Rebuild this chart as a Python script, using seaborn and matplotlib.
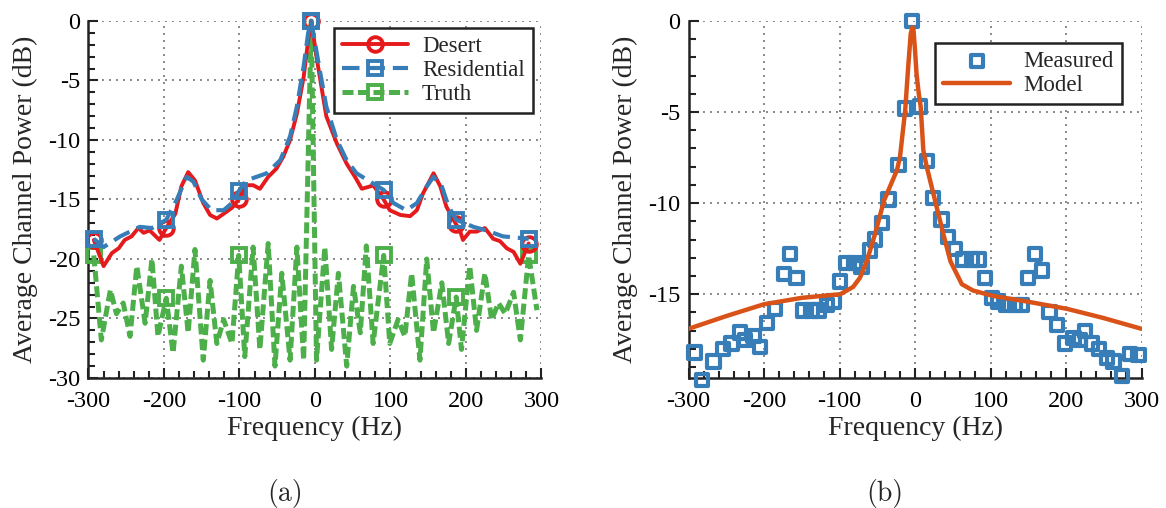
import matplotlib
matplotlib.use("Agg")
import matplotlib.pyplot as plt
import seaborn as sns
import numpy as np
import pandas as pd
from matplotlib.ticker import MultipleLocator

# ---------------- Data: panel (a) ----------------
desert_x = [-293, -280, -269, -260, -252, -243, -234, -227, -219, -206, -197, -185, -177, -168,
            -159, -148, -139, -130, -121, -110, -101, -91, -82, -73, -62, -51, -42, -33, -24,
            -15, -9, -5, 4, 15, 29, 42, 53, 62, 73, 77, 91, 99, 113, 126, 135, 143, 157, 166,
            174, 187, 192, 196, 205, 214, 225, 236, 245, 254, 263, 272, 283]
desert_y = [-18.4, -20.6, -19.5, -19.1, -18.4, -18.1, -17.4, -17.8, -17.6, -18.4, -17.4, -16.2,
            -13.9, -12.7, -13.4, -15.3, -16.3, -16.6, -16.2, -15.7, -15.0, -13.8, -13.8, -14.1,
            -13.1, -12.4, -11.4, -10.0, -7.8, -4.7, -1.6, 0.0, -3.8, -8.0, -10.3, -12.0, -13.1,
            -14.1, -13.9, -13.8, -15.0, -15.9, -16.3, -16.4, -15.9, -14.5, -12.8, -13.9, -15.6,
            -17.1, -17.6, -18.4, -17.7, -17.7, -17.4, -18.3, -18.5, -19.1, -19.4, -20.4, -18.7]
desert_marks = [-293, -197, -101, -5, 91, 187, 283]

resid_x = [-293, -280, -258, -232, -216, -197, -183, -170, -161, -150, -137, -121, -110, -101,
           -91, -64, -46, -33, -24, -15, -9, -5, 4, 15, 29, 42, 55, 73, 91, 104, 121, 135, 148,
           157, 168, 177, 187, 210, 227, 249, 283]
resid_y = [-18.3, -19.0, -18.1, -17.3, -17.4, -16.7, -15.0, -13.1, -13.5, -15.0, -15.9, -15.9,
           -15.3, -14.3, -13.4, -12.8, -11.7, -9.7, -7.2, -3.8, -1.0, 0.0, -3.3, -7.2, -10.0,
           -11.7, -12.8, -13.5, -14.2, -15.3, -15.9, -15.3, -13.9, -13.1, -13.9, -15.6, -16.7,
           -17.3, -17.6, -18.1, -18.3]

truth_x = [-293, -283, -271, -263, -254, -245, -236, -225, -216, -208, -197, -188, -177, -168,
           -159, -148, -139, -130, -121, -110, -101, -93, -82, -73, -62, -53, -44, -33, -24,
           -15, -5, 2, 13, 22, 31, 42, 51, 60, 68, 77, 91, 99, 110, 119, 128, 139, 148, 157,
           168, 177, 187, 194, 205, 214, 225, 234, 243, 252, 263, 272, 283, 294]
truth_y = [-19.7, -26.8, -22.6, -24.6, -23.7, -26.5, -20.6, -25.4, -20.0, -26.5, -23.3, -27.9,
           -20.6, -26.2, -19.2, -28.5, -21.8, -27.1, -25.1, -27.1, -19.7, -28.2, -19.0, -27.6,
           -18.7, -29.0, -21.2, -28.5, -19.0, -28.5, 0.0, -28.5, -19.0, -27.6, -21.2, -29.0,
           -22.3, -26.2, -18.9, -27.1, -19.7, -27.1, -25.1, -26.5, -21.2, -28.5, -20.0, -26.2,
           -22.0, -27.1, -23.2, -27.6, -20.6, -26.0, -21.2, -25.1, -23.7, -24.6, -22.8, -26.8,
           -19.7, -24.3]

# ---------------- Data: panel (b) ----------------
meas_x = [-292, -282, -267, -254, -243, -232, -225, -214, -205, -196, -185, -174, -166, -157,
          -148, -137, -128, -117, -108, -99, -91, -80, -71, -60, -53, -44, -35, -22, -13, -4,
          7, 16, 24, 35, 44, 53, 64, 75, 84, 93, 102, 110, 121, 132, 141, 150, 159, 168, 178,
          188, 199, 210, 219, 225, 234, 244, 254, 263, 274, 285, 296]
meas_y = [-18.2, -19.7, -18.7, -18.0, -17.7, -17.1, -17.5, -17.3, -17.9, -16.6, -15.8, -13.9,
          -12.8, -14.1, -15.9, -15.9, -15.9, -15.6, -15.4, -14.3, -13.3, -13.3, -13.5, -12.6,
          -12.0, -11.1, -9.8, -7.9, -4.8, 0.0, -4.7, -7.7, -9.7, -10.9, -11.85, -12.5, -13.1,
          -13.1, -13.1, -14.1, -15.2, -15.4, -15.6, -15.6, -15.6, -14.1, -12.8, -13.7, -15.97,
          -16.7, -17.7, -17.4, -17.5, -17.0, -17.7, -18.0, -18.5, -18.7, -19.5, -18.3, -18.35]

model_x = [-300, -250, -200, -150, -99, -82, -73, -64, -53, -41, -24, -20, -13, -9, -5.7,
           -3.5, -2, 0, 2, 5, 7.5, 11, 15.5, 26.5, 37.5, 47, 62, 77, 104, 148, 201, 249, 300]
model_y = [-16.9, -16.2, -15.55, -15.2, -15.0, -14.6, -14.1, -13.2, -11.7, -9.85, -8.2, -7.5,
           -4.9, -2.5, -0.7, -0.35, -0.5, -1.6, -2.9, -4.0, -4.7, -7.1, -8.0, -9.85, -11.7,
           -13.2, -14.45, -14.8, -15.1, -15.4, -15.8, -16.3, -16.9]

RED = "#E41A1C"
BLUE = "#377EB8"
GREEN = "#4DAF4A"
ORANGE = "#D95319"

sns.set_theme(style="ticks")
plt.rcParams["font.family"] = ["Liberation Serif", "DejaVu Serif"]
plt.rcParams["axes.unicode_minus"] = False

fig = plt.figure(figsize=(11.66, 5.08), dpi=100)
ax1 = fig.add_axes([0.0759, 0.2559, 0.3885, 0.7028])
ax2 = fig.add_axes([0.5905, 0.2559, 0.3885, 0.7028])


def idx_of(xs, marks):
    return [xs.index(m) for m in marks]


# Panel (a)
sns.lineplot(x=truth_x, y=truth_y, ax=ax1, color=GREEN, lw=3.6,
             marker="s", markevery=idx_of(truth_x, desert_marks), ms=10, mfc="none",
             mec=GREEN, mew=2.8, label="Truth", clip_on=False, zorder=3)
ax1.lines[-1].set_dashes((2.2, 0.9))
sns.lineplot(x=resid_x, y=resid_y, ax=ax1, color=BLUE, lw=3.0,
             marker="s", markevery=idx_of(resid_x, desert_marks), ms=10.5, mfc="none",
             mec=BLUE, mew=2.8, label="Residential", clip_on=False, zorder=4)
ax1.lines[-1].set_dashes((4.2, 1.9))
sns.lineplot(x=desert_x, y=desert_y, ax=ax1, color=RED, lw=2.8,
             marker="o", markevery=idx_of(desert_x, desert_marks), ms=10.5, mfc="none",
             mec=RED, mew=2.8, label="Desert", clip_on=False, zorder=3.5)

# Panel (b)
sns.scatterplot(x=meas_x, y=meas_y, ax=ax2, marker="s", s=78, facecolor="none",
                edgecolor=BLUE, linewidth=3.0, label="Measured", clip_on=False, zorder=3)
sns.lineplot(x=model_x, y=model_y, ax=ax2, color=ORANGE, lw=3.2, label="Model", zorder=4)

for ax, ylim in ((ax1, (-30, 0)), (ax2, (-19.6, 0))):
    ax.set_xlim(-300, 300)
    ax.set_ylim(*ylim)
    ax.xaxis.set_major_locator(MultipleLocator(100))
    ax.xaxis.set_minor_locator(MultipleLocator(20))
    ax.yaxis.set_major_locator(MultipleLocator(5))
    ax.yaxis.set_minor_locator(MultipleLocator(1))
    ax.tick_params(which="both", direction="in", colors="#222222", labelcolor="black",
                   labelsize=17.5, width=1.5, top=False, right=False)
    ax.tick_params(which="major", length=7)
    ax.tick_params(which="minor", length=5)
    ax.tick_params(axis="x", which="major", pad=9)
    ax.tick_params(axis="y", which="major", pad=6)
    ax.grid(True, which="major", color="#888888", linestyle=(0, (1, 2.6)), lw=1.4)
    for s in ("top", "right"):
        ax.spines[s].set_visible(False)
    for s in ("left", "bottom"):
        ax.spines[s].set_color("#222222")
        ax.spines[s].set_linewidth(1.8)
    ax.set_xlabel("Frequency (Hz)", fontsize=20, labelpad=3)
    ax.set_ylabel("Average Channel Power (dB)", fontsize=20, labelpad=7)
    ax.set_facecolor("white")

h, l = ax1.get_legend_handles_labels()
order = [l.index(n) for n in ("Desert", "Residential", "Truth")]
leg1 = ax1.legend([h[i] for i in order], [l[i] for i in order], loc="upper right",
                  bbox_to_anchor=(0.981, 0.98), fontsize=16.5, frameon=True, fancybox=False,
                  framealpha=1, edgecolor="#222222", handlelength=2.9, labelspacing=0.12,
                  borderpad=0.35, handletextpad=0.6, borderaxespad=0)
leg1.get_frame().set_linewidth(1.8)

h, l = ax2.get_legend_handles_labels()
order = [l.index(n) for n in ("Measured", "Model")]
leg2 = ax2.legend([h[i] for i in order], [l[i] for i in order], loc="upper right",
                  bbox_to_anchor=(0.957, 0.938), fontsize=16.5, frameon=True, fancybox=False,
                  framealpha=1, edgecolor="#222222", handlelength=2.9, labelspacing=0.12,
                  borderpad=0.35, handletextpad=0.6, borderaxespad=0, scatterpoints=1)
leg2.get_frame().set_linewidth(1.8)

fig.text(0.2444, 0.0295, "(a)", ha="center", va="center", fontsize=20, family="cmr10")
fig.text(0.759, 0.0295, "(b)", ha="center", va="center", fontsize=20, family="cmr10")

fig.savefig("out.png", dpi=100, facecolor="white")
